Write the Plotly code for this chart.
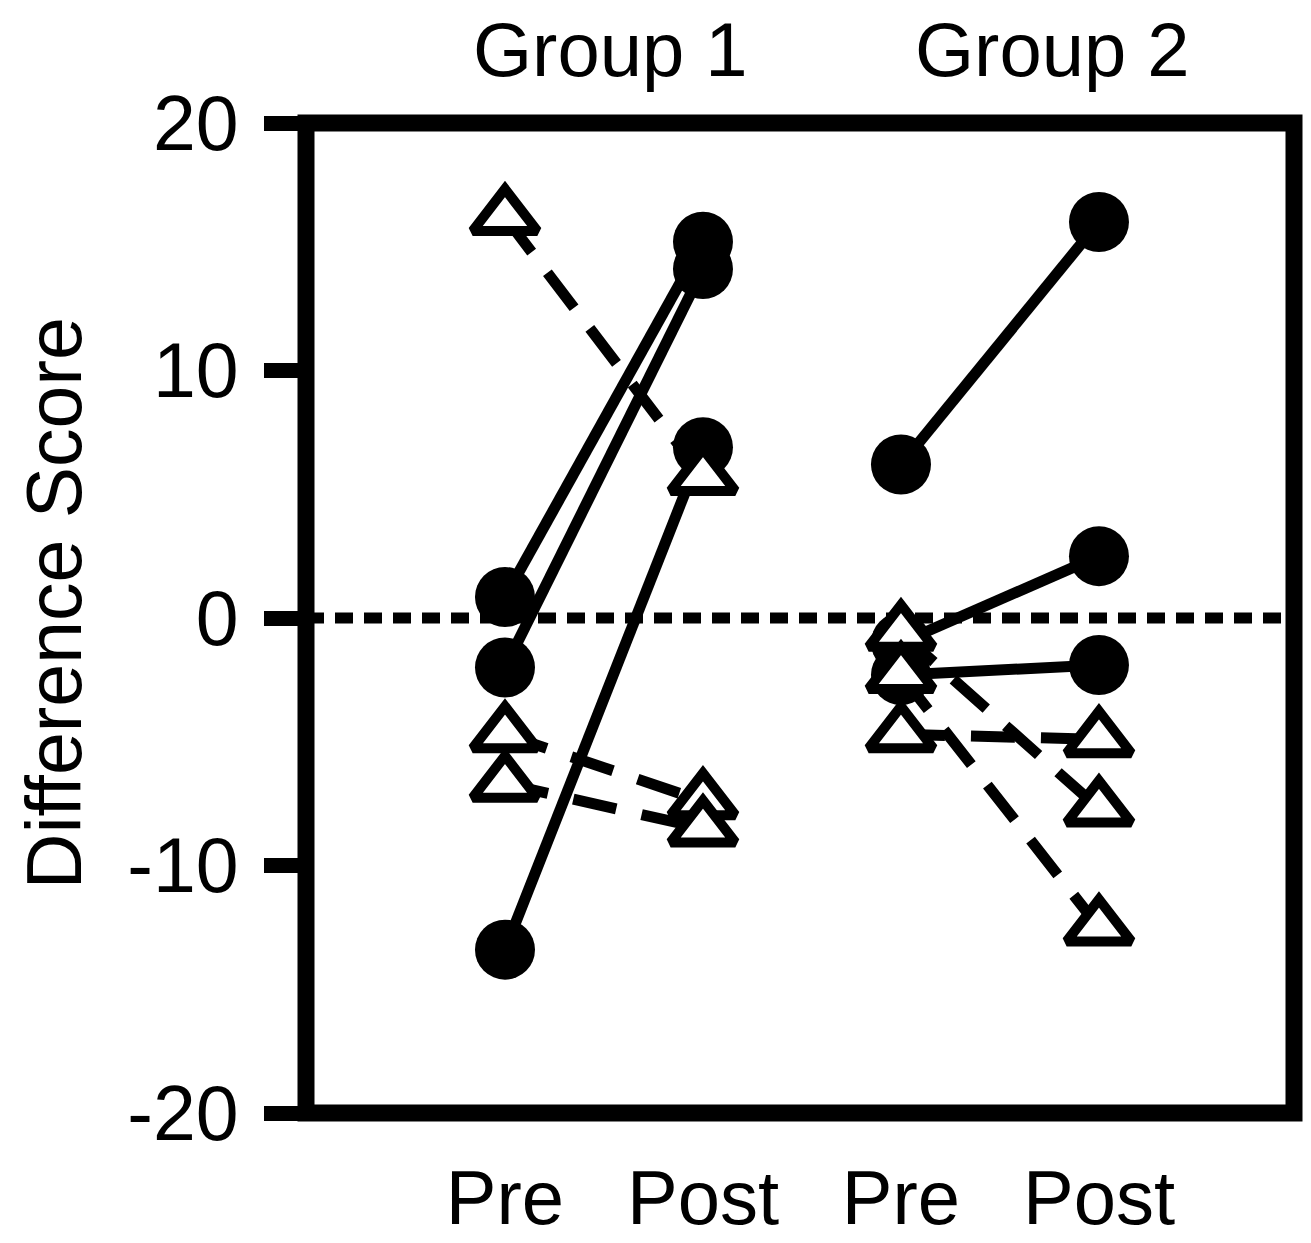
import plotly.graph_objects as go

# ---- data ----
x_positions = [0, 1, 2, 3]
x_labels = ["Pre", "Post", "Pre", "Post"]
group_labels = ["Group 1", "Group 2"]
y_ticks = [-20, -10, 0, 10, 20]

g1_circle_pre = [0.85, -2.0, -13.4]
g1_circle_post = [15.2, 14.1, 6.9]
g1_tri_pre = [16.2, -4.7, -6.7]
g1_tri_post = [5.7, -7.4, -8.5]

g2_circle_pre = [6.2, -1.0, -2.3]
g2_circle_post = [16.0, 2.5, -1.9]
g2_tri_pre = [-0.6, -2.3, -4.7]
g2_tri_post = [-7.7, -12.5, -4.9]

FONT = "Liberation Sans, Arial, sans-serif"

fig = go.Figure()

circle_marker = dict(symbol="circle", size=60, color="black", line=dict(width=0))
tri_marker = dict(symbol="triangle-up", size=56, color="white",
                  line=dict(color="black", width=10))

def add_pairs(pre, post, x0, x1, marker, dash):
    for a, b in zip(pre, post):
        fig.add_trace(go.Scatter(
            x=[x_positions[x0], x_positions[x1]], y=[a, b],
            mode="lines+markers",
            line=dict(color="black", width=11, dash=dash),
            marker=marker, showlegend=False, hoverinfo="skip"))

# circles first (solid lines), triangles on top (dashed lines)
add_pairs(g1_circle_pre, g1_circle_post, 0, 1, circle_marker, "solid")
add_pairs(g2_circle_pre, g2_circle_post, 2, 3, circle_marker, "solid")
add_pairs(g1_tri_pre, g1_tri_post, 0, 1, tri_marker, "44px,26px")
add_pairs(g2_tri_pre, g2_tri_post, 2, 3, tri_marker, "44px,26px")

# zero reference line (dotted)
fig.add_shape(type="line", xref="paper", yref="y", x0=0, x1=1, y0=0, y1=0,
              line=dict(color="black", width=11, dash="18px,11px"), layer="below")
# frame
fig.add_shape(type="rect", xref="paper", yref="paper", x0=0, x1=1, y0=0, y1=1,
              line=dict(color="black", width=17), layer="above")

# group labels
for lab, xp in zip(group_labels, [0.3077, 0.756]):
    fig.add_annotation(text=lab, xref="paper", yref="paper", x=xp, y=1.074,
                       xanchor="center", yanchor="middle", showarrow=False,
                       font=dict(family=FONT, size=76, color="black"))

# y axis title
fig.add_annotation(text="Difference Score", xref="paper", yref="paper",
                   x=-0.255, y=0.515, xanchor="center", yanchor="middle",
                   textangle=-90, showarrow=False,
                   font=dict(family=FONT, size=77, color="black"))

fig.update_layout(
    width=1303, height=1235,
    margin=dict(l=298, r=17, t=115, b=130, autoexpand=False),
    paper_bgcolor="white", plot_bgcolor="white",
    font=dict(family=FONT, color="black"),
)
fig.update_xaxes(range=[-1.005, 3.985], tickvals=x_positions, ticktext=x_labels,
                 ticks="", showgrid=False, zeroline=False, showline=False,
                 automargin=False,
                 tickfont=dict(family=FONT, size=76, color="black"),
                 ticklabelstandoff=34)
fig.update_yaxes(range=[-20, 20], tickvals=y_ticks,
                 ticktext=[str(v) for v in y_ticks],
                 ticks="outside", ticklen=41, tickwidth=15, tickcolor="black",
                 showgrid=False, zeroline=False, showline=False,
                 automargin=False,
                 tickfont=dict(family=FONT, size=77, color="black"),
                 ticklabelstandoff=10)

fig.write_html("out.html")
